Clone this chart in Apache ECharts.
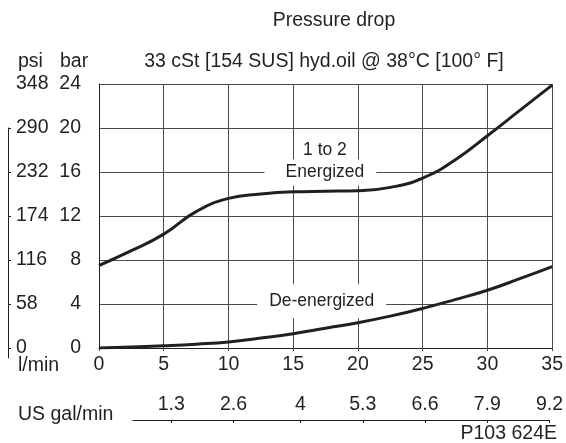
<!doctype html>
<html>
<head>
<meta charset="utf-8">
<script src="https://cdn.jsdelivr.net/npm/echarts@6/dist/echarts.min.js"></script>
<style>
  html, body { margin:0; background:#fff; }
  #chart { width:566px; height:443px; }
</style>
</head>
<body>
<div id="chart"></div>
<script>
// flow in l/min, pressure drop in bar
const flowLpm = [0, 2.5, 5, 7.5, 10, 12.5, 15, 17.5, 20, 22.5, 25, 27.5, 30, 32.5, 35];
const energizedBar   = [7.5, 8.85, 10.35, 12.4, 13.6, 14.0, 14.2, 14.25, 14.3, 14.6, 15.45, 17.1, 19.3, 21.6, 23.9];
const deEnergizedBar = [0, 0.08, 0.2, 0.35, 0.55, 0.9, 1.3, 1.8, 2.3, 2.9, 3.6, 4.4, 5.25, 6.3, 7.4];

const barMax = 24, barStep = 4;
const psiMax = 348, psiStep = 58;
const bracketPsiTicks = [0, 58, 116, 174, 232, 290];
const flowMax = 35, flowStep = 5;
const galTicks = [1.3, 2.6, 4, 5.3, 6.6, 7.9, 9.2];

const FONT = '"Liberation Sans", Arial, sans-serif';
const INK = '#231f20';
const GRIDC = '#4a4a4a';
const FS = 19.5;
const NOTE_FS = 17.5;

const zip = (xs, ys) => xs.map((x, i) => [x, ys[i]]);
const txt = (text, x, y, align) => ({
  type: 'text', x, y,
  style: { text, align, verticalAlign: 'middle', fontSize: FS, fontFamily: FONT, fill: INK }
});
const noteLabel = { show: true, position: 'inside', fontSize: NOTE_FS, color: INK, fontFamily: FONT };

const chart = echarts.init(document.getElementById('chart'), null, { renderer: 'canvas' });
chart.setOption({
  animation: false,
  backgroundColor: '#fff',
  textStyle: { fontFamily: FONT, color: INK },
  grid: [
    { left: 99, right: 7, top: 84, bottom: 95 },
    { left: 133, right: 9, top: 420, height: 1 },
    { left: 8, width: 10, top: 128, bottom: 85 }
  ],
  xAxis: [
    {
      gridIndex: 0, type: 'value', min: 0, max: flowMax, interval: flowStep,
      axisLine: { show: true, lineStyle: { color: INK, width: 1 } },
      axisTick: { show: true, length: 3, lineStyle: { color: GRIDC } },
      axisLabel: { fontSize: FS, color: INK, margin: 7, fontFamily: FONT },
      splitLine: { show: true, lineStyle: { color: GRIDC, width: 1 } }
    },
    {
      gridIndex: 1, type: 'value', min: 0.5, max: 9.2, position: 'top',
      axisLine: { show: true, onZero: false, lineStyle: { color: INK, width: 1 } },
      axisTick: { show: true, inside: true, length: 3, customValues: galTicks, lineStyle: { color: INK } },
      axisLabel: { fontSize: FS, color: INK, margin: 5, fontFamily: FONT, customValues: galTicks },
      splitLine: { show: false }
    },
    { gridIndex: 2, type: 'value', show: false, min: 0, max: 1 }
  ],
  yAxis: [
    {
      gridIndex: 0, type: 'value', min: 0, max: barMax, interval: barStep,
      axisLine: { show: true, lineStyle: { color: INK, width: 1 } },
      axisTick: { show: false },
      axisLabel: { fontSize: FS, color: INK, margin: 18, fontFamily: FONT, padding: [0, 0, 3, 0] },
      splitLine: { show: true, lineStyle: { color: GRIDC, width: 1 } }
    },
    {
      gridIndex: 0, type: 'value', min: 0, max: psiMax, interval: psiStep, position: 'left',
      axisLine: { show: false }, axisTick: { show: false }, splitLine: { show: false },
      axisLabel: { fontSize: FS, color: INK, margin: 83, align: 'left', fontFamily: FONT, padding: [0, 0, 2, 0] }
    },
    { gridIndex: 1, type: 'value', show: false },
    {
      gridIndex: 2, type: 'value', min: -13, max: 290, position: 'left',
      axisLine: { show: true, onZero: false, lineStyle: { color: INK, width: 1 } },
      axisTick: { show: true, inside: true, length: 3, customValues: bracketPsiTicks, lineStyle: { color: INK } },
      axisLabel: { show: false }, splitLine: { show: false }
    }
  ],
  series: [
    {
      name: '1 to 2 Energized', type: 'line', xAxisIndex: 0, yAxisIndex: 0, z: 3,
      data: zip(flowLpm, energizedBar), smooth: 0.5, symbol: 'none',
      lineStyle: { color: INK, width: 3 },
      markPoint: {
        z: 1,
        symbol: 'circle', symbolSize: 1, itemStyle: { color: 'rgba(0,0,0,0)' },
        label: noteLabel,
        data: [
          { coord: [17.1, 15.95], label: { formatter: 'Energized', backgroundColor: '#fff', padding: [6, 12, 2, 21] } },
          { coord: [17.45, 18.0], label: { formatter: '1 to 2' } }
        ]
      }
    },
    {
      name: 'De-energized', type: 'line', xAxisIndex: 0, yAxisIndex: 0, z: 3,
      data: zip(flowLpm, deEnergizedBar), smooth: 0.5, symbol: 'none',
      lineStyle: { color: INK, width: 3 },
      markPoint: {
        z: 1,
        symbol: 'circle', symbolSize: 1, itemStyle: { color: 'rgba(0,0,0,0)' },
        label: noteLabel,
        data: [
          { coord: [17.2, 4.25], label: { formatter: 'De-energized', backgroundColor: '#fff', padding: [9, 12, 7, 12] } }
        ]
      }
    }
  ],
  graphic: [
    txt('Pressure drop', 334, 21, 'center'),
    txt('33 cSt [154 SUS] hyd.oil @ 38°C [100° F]', 324, 62, 'center'),
    txt('psi', 18, 62, 'left'),
    txt('bar', 60, 62, 'left'),
    txt('l/min', 18, 366, 'left'),
    txt('US gal/min', 18, 415, 'left'),
    txt('P103 624E', 557, 434, 'right')
  ]
});
</script>
</body>
</html>
